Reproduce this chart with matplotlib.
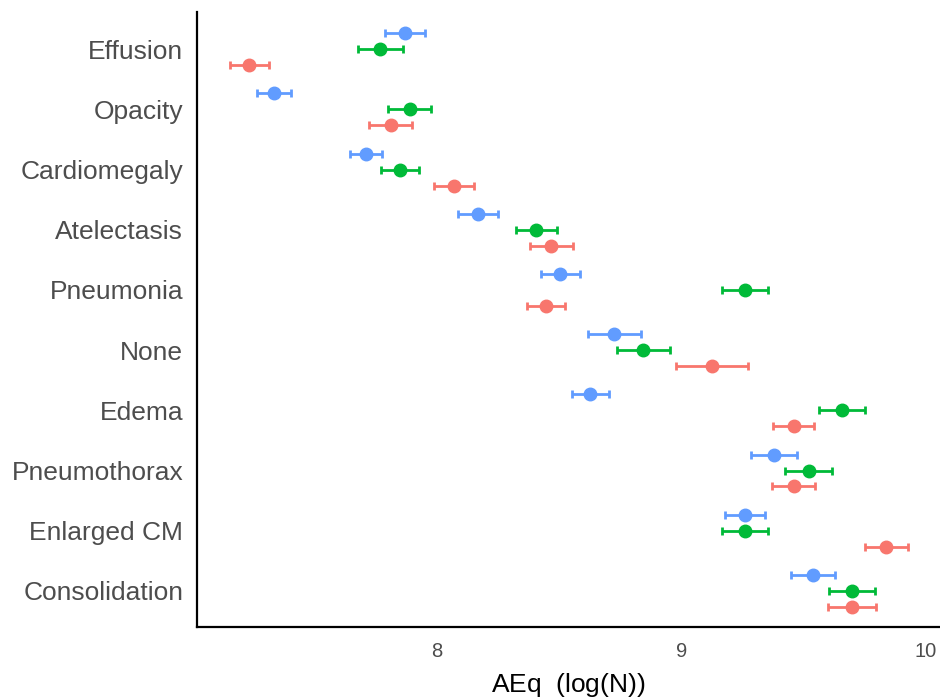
import matplotlib
matplotlib.use("Agg")
import matplotlib.pyplot as plt
import numpy as np

plt.rcParams['font.family'] = ['Liberation Sans', 'DejaVu Sans']
plt.rcParams['mathtext.fontset'] = 'custom'
plt.rcParams['mathtext.rm'] = 'Liberation Sans'

categories = ['Effusion', 'Opacity', 'Cardiomegaly', 'Atelectasis', 'Pneumonia',
              'None', 'Edema', 'Pneumothorax', 'Enlarged CM', 'Consolidation']

# blue group (top of each row)
blue_mean = [7.869, 7.331, 7.709, 8.167, 8.505, 8.725, 8.627, 9.381, 9.262, 9.541]
blue_err = [0.082, 0.070, 0.065, 0.083, 0.080, 0.108, 0.076, 0.094, 0.083, 0.090]
# green group (middle)
green_mean = [7.766, 7.887, 7.848, 8.406, 9.262, 8.845, 9.660, 9.522, 9.262, 9.700]
green_err = [0.092, 0.087, 0.078, 0.083, 0.094, 0.107, 0.094, 0.096, 0.094, 0.093]
# red group (bottom)
red_mean = [7.230, 7.809, 8.067, 8.468, 8.445, 9.125, 9.460, 9.460, 9.839, 9.700]
red_err = [0.080, 0.087, 0.082, 0.089, 0.079, 0.147, 0.084, 0.089, 0.088, 0.097]

fig = plt.figure(figsize=(9.4, 6.98), dpi=100)
ax = fig.add_axes([0.2096, 0.1017, 0.7904, 0.8813])

y = np.arange(len(categories))
groups = [(blue_mean, blue_err, '#619CFF', -0.265),
          (green_mean, green_err, '#00BA38', 0.0),
          (red_mean, red_err, '#F8766D', 0.265)]
for m, e, c, off in groups:
    ax.errorbar(m, y + off, xerr=e, fmt='o', color=c, ecolor=c,
                markersize=9, elinewidth=2, capsize=2.6, capthick=2)

ax.set_yticks(y)
ax.set_yticklabels(categories)
ax.set_ylim(9.6, -0.62)
ax.set_xlim(7.016, 10.06)
ax.set_xticks([8, 9, 10])

for s in ['top', 'right']:
    ax.spines[s].set_visible(False)
for s in ['left', 'bottom']:
    ax.spines[s].set_linewidth(1.6)
    ax.spines[s].set_color('black')

ax.tick_params(axis='both', length=0, colors='#4D4D4D')
ax.tick_params(axis='y', labelsize=19, pad=10)
ax.tick_params(axis='x', labelsize=14.5, pad=11)
ax.set_xlabel(r'AEq  $\left(\mathrm{log(N)}\right)$', fontsize=19, color='black', labelpad=7)

fig.savefig('out.png', dpi=100)
